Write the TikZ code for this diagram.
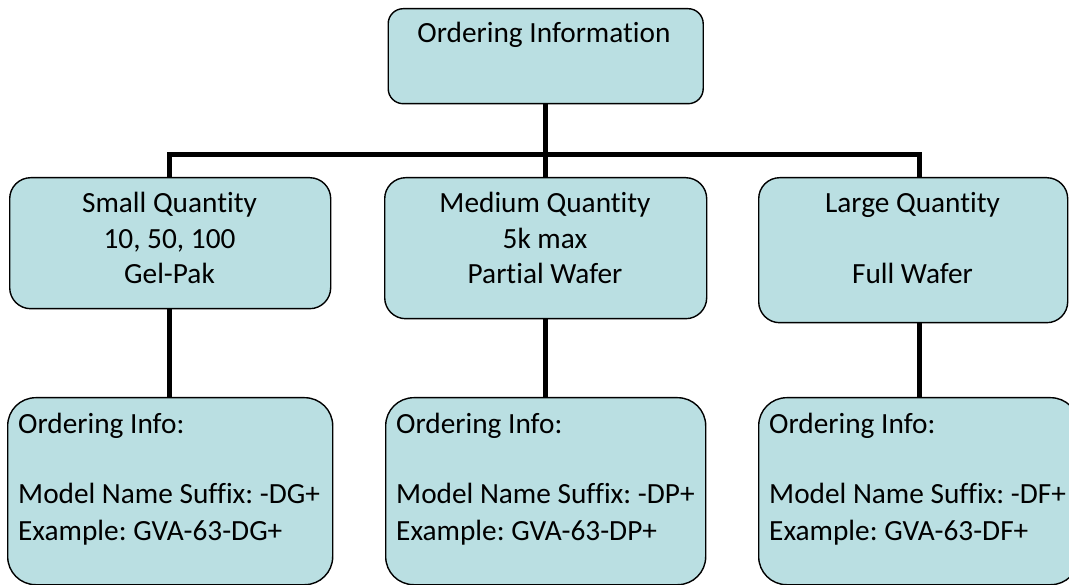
\documentclass[tikz,border=0pt]{standalone}
\usepackage{fontspec}
\setmainfont[Ligatures=NoCommon]{Carlito}
\definecolor{boxfill}{RGB}{186,223,226}
\tikzset{
  box/.style={draw=black, line width=1.4pt, fill=boxfill, rectangle, inner sep=0pt, anchor=north west},
  conn/.style={draw=black, line width=5pt},
  lbl/.style={inner sep=0pt, anchor=base, font=\fontsize{29.3}{35.5}\selectfont},
  lbll/.style={inner sep=0pt, anchor=base west, font=\fontsize{29.3}{35.5}\selectfont},
}
\begin{document}
\frenchspacing
\begin{tikzpicture}[x=1pt,y=-1pt]
\useasboundingbox (0,0) rectangle (1069,585);
% top box
\node[box, rounded corners=15pt, minimum width=315pt, minimum height=95pt] (top) at (387.5,8) {};
% middle row
\node[box, rounded corners=21pt, minimum width=321pt, minimum height=131pt] (sq) at (9,177) {};
\node[box, rounded corners=21pt, minimum width=322pt, minimum height=141pt] (mq) at (384,177) {};
\node[box, rounded corners=21pt, minimum width=309pt, minimum height=145pt] (lq) at (758,177) {};
% bottom row
\node[box, rounded corners=28pt, minimum width=325pt, minimum height=187pt] (sb) at (7,397) {};
\node[box, rounded corners=28pt, minimum width=320pt, minimum height=187pt] (mb) at (385,397) {};
\node[box, rounded corners=28pt, minimum width=320pt, minimum height=187pt] (lb) at (758,397) {};
% connector guide coordinates
\coordinate (sx) at (169.5,0);
\coordinate (lx) at (919,0);
\coordinate (j) at (545,155);
% connectors
\draw[conn] (top.south) -- (mq.north);
\draw[conn] (sx |- sq.north) |- (j) -| (lx |- lq.north);
\draw[conn] (sx |- sq.south) -- (sx |- sb.north);
\draw[conn] (mq.south) -- (mq.south |- mb.north);
\draw[conn] (lx |- lq.south) -- (lx |- lb.north);
% texts
\node[lbl] (t1) at (544,43) {Ordering Information};
\node[lbl] (s1) at (169.5,213) {Small Quantity};
\node[lbl] (s2) at (169.5,248.5) {10, 50, 100};
\node[lbl] (s3) at (169.5,284) {Gel-Pak};
\node[lbl] (m1) at (545,213) {Medium Quantity};
\node[lbl] (m2) at (545,248.5) {5k max};
\node[lbl] (m3) at (545,284) {Partial Wafer};
\node[lbl] (l1) at (912.5,213) {Large Quantity};
\node[lbl] (l3) at (912.5,284) {Full Wafer};
\node[lbll] (sb1) at (18,433) {Ordering Info:};
\node[lbll] (sb2) at (18,503.5) {Model Name Suffix: -DG+};
\node[lbll] (sb3) at (18,540) {Example: GVA-63-DG+};
\node[lbll] (mb1) at (396,433) {Ordering Info:};
\node[lbll] (mb2) at (396,503.5) {Model Name Suffix: -DP+};
\node[lbll] (mb3) at (396,540) {Example: GVA-63-DP+};
\node[lbll] (lb1) at (769,433) {Ordering Info:};
\node[lbll] (lb2) at (769,503.5) {Model Name Suffix: -DF+};
\node[lbll] (lb3) at (769,540) {Example: GVA-63-DF+};
\end{tikzpicture}
\end{document}
